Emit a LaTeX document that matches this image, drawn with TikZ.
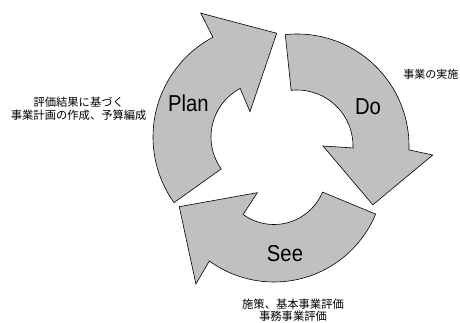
\documentclass[tikz,border=0pt]{standalone}
\usepackage{fontspec}
\newfontfamily\latfont{Liberation Sans}
\newfontfamily\jpfont{Noto Sans CJK JP}
\usetikzlibrary{calc}
\definecolor{arrowgray}{HTML}{C0C0C0}
\tikzset{
  cyclearrow/.style={fill=arrowgray, draw=black, line width=0.6pt, line join=miter},
  phase/.style={inner sep=0pt, font=\latfont\fontsize{23}{27}\selectfont},
  note/.style={inner sep=0pt, align=center, font=\jpfont\fontsize{11.3}{12.7}\selectfont}
}
\begin{document}
\begin{tikzpicture}[x=1pt,y=1pt]
\useasboundingbox (0,0) rectangle (460,322);
\fill[white] (0,0) rectangle (460,322);
% centres of the three circular arrows
\coordinate (cp) at (266,185);
\coordinate (cd) at (297,176);
\coordinate (cs) at (274,150);
% Plan arrow
\draw[cyclearrow] ($(cp)+(215.5:113)$) arc[start angle=215.5, end angle=118, radius=113]
  -- ($(cp)+(117.8:140)$) -- ($(cp)+(84.1:104.3)$) -- ($(cp)+(122.3:30)$)
  -- ($(cp)+(118:55)$) arc[start angle=118, end angle=215.5, radius=55] -- cycle;
% Do arrow
\draw[cyclearrow] ($(cd)+(96:112)$) arc[start angle=96, end angle=-2, radius=112]
  -- ($(cd)+(-3.8:136)$) -- ($(cd)+(-37.8:96)$) -- ($(cd)+(0:26)$)
  -- ($(cd)+(-2:56)$) arc[start angle=-2, end angle=96, radius=56] -- cycle;
% See arrow
\draw[cyclearrow] ($(cs)+(-22.5:110)$) arc[start angle=-22.5, end angle=-126, radius=110]
  -- ($(cs)+(-124.9:136.5)$) -- ($(cs)+(-159.9:100.9)$) -- ($(cs)+(-128.9:26.6)$)
  -- ($(cs)+(-126:52.5)$) arc[start angle=-126, end angle=-22.5, radius=52.5] -- cycle;
% labels
\node[phase] (plan) at (188.3,218.7) {\scalebox{0.88}[1]{Plan}};
\node[phase] (do) at (368,215.3) {\scalebox{0.88}[1]{Do}};
\node[phase] (see) at (285,68) {\scalebox{0.88}[1]{See}};
\node[note] (planlbl) at (78.7,213.2) {評価結果に基づく\\事業計画の作成、予算編成};
\node[note, anchor=east, font=\jpfont\fontsize{11}{12.7}\selectfont] (dolbl) at (458.5,248) {事業の実施};
\node[note] (seelbl) at (293,11.7) {施策、基本事業評価\\事務事業評価};
\end{tikzpicture}
\end{document}
